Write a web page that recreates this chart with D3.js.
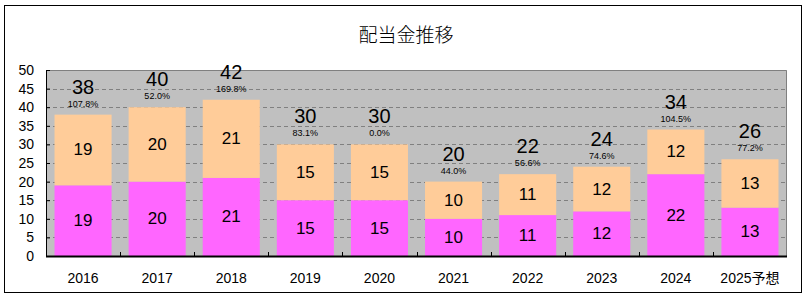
<!DOCTYPE html>
<html>
<head>
<meta charset="utf-8">
<script src="https://cdn.jsdelivr.net/npm/d3@7"></script>
<style>
  body { margin: 0; background: #fff; }
  text { font-family: "Liberation Sans", "Noto Sans CJK JP", sans-serif; }
</style>
</head>
<body>
<svg></svg>
<script>
var years = ["2016", "2017", "2018", "2019", "2020", "2021", "2022", "2023", "2024", "2025予想"];
var lower = [19, 20, 21, 15, 15, 10, 11, 12, 22, 13];
var upper = [19, 20, 21, 15, 15, 10, 11, 12, 12, 13];
var totals = [38, 40, 42, 30, 30, 20, 22, 24, 34, 26];
var rates = ["107.8%", "52.0%", "169.8%", "83.1%", "0.0%", "44.0%", "56.6%", "74.6%", "104.5%", "77.2%"];
var yTicks = [0, 5, 10, 15, 20, 25, 30, 35, 40, 45, 50];

var screen = { width: 810, height: 298 };
var margins = { top: 70, bottom: 42, left: 46, right: 23 };
var graphWidth = screen.width - margins.left - margins.right;
var graphHeight = screen.height - margins.top - margins.bottom;

var svg = d3.select("svg")
  .attr("width", screen.width)
  .attr("height", screen.height);

// outer frame
svg.append("rect")
  .attr("x", 4.5).attr("y", 5.5)
  .attr("width", 797).attr("height", 287)
  .attr("fill", "#fff")
  .attr("stroke", "#000")
  .attr("stroke-width", 1);

svg.append("text")
  .attr("x", 406).attr("y", 33)
  .attr("text-anchor", "middle")
  .attr("dominant-baseline", "central")
  .attr("font-size", 19)
  .style("font-family", "'Noto Sans CJK JP', sans-serif")
  .style("font-weight", 300)
  .text("配当金推移");

var xScale = d3.scaleBand()
  .domain(years)
  .range([0, graphWidth])
  .paddingInner(0.23)
  .paddingOuter(0.115);

var yScale = d3.scaleLinear()
  .domain([0, 50])
  .range([graphHeight, 0]);

var plot = svg.append("g")
  .attr("transform", "translate(" + margins.left + "," + margins.top + ")");

plot.append("rect")
  .attr("width", graphWidth)
  .attr("height", graphHeight)
  .attr("fill", "#c0c0c0");

// dashed grid
plot.selectAll(".grid")
  .data(yTicks.filter(function(d) { return d > 0 && d < 50; }))
  .enter()
  .append("line")
  .attr("x1", 0).attr("x2", graphWidth)
  .attr("y1", function(d) { return Math.round(yScale(d)) + 0.5; })
  .attr("y2", function(d) { return Math.round(yScale(d)) + 0.5; })
  .attr("stroke", "#808080")
  .attr("stroke-dasharray", "4,3");

// top and right border
plot.append("path")
  .attr("d", "M0.5,0.5H" + (graphWidth - 0.5) + "V" + graphHeight)
  .attr("fill", "none")
  .attr("stroke", "#808080");

var cols = plot.selectAll(".col")
  .data(years)
  .enter()
  .append("g")
  .attr("transform", function(d) { return "translate(" + xScale(d) + ",0)"; });

cols.append("rect")
  .attr("y", function(d, i) { return yScale(lower[i]); })
  .attr("width", xScale.bandwidth())
  .attr("height", function(d, i) { return graphHeight - yScale(lower[i]); })
  .attr("fill", "#ff66ff");

cols.append("rect")
  .attr("y", function(d, i) { return yScale(lower[i] + upper[i]); })
  .attr("width", xScale.bandwidth())
  .attr("height", function(d, i) { return yScale(lower[i]) - yScale(lower[i] + upper[i]); })
  .attr("fill", "#ffcc99");

var mid = xScale.bandwidth() / 2;

cols.append("text")
  .attr("x", mid)
  .attr("y", function(d, i) { return yScale(lower[i] / 2); })
  .attr("text-anchor", "middle")
  .attr("dominant-baseline", "central")
  .attr("font-size", 17)
  .text(function(d, i) { return lower[i]; });

cols.append("text")
  .attr("x", mid)
  .attr("y", function(d, i) { return yScale(lower[i] + upper[i] / 2); })
  .attr("text-anchor", "middle")
  .attr("dominant-baseline", "central")
  .attr("font-size", 17)
  .text(function(d, i) { return upper[i]; });

cols.append("text")
  .attr("x", mid)
  .attr("y", function(d, i) { return yScale(totals[i]) - 28; })
  .attr("text-anchor", "middle")
  .attr("dominant-baseline", "central")
  .attr("font-size", 20)
  .text(function(d, i) { return totals[i]; });

cols.append("text")
  .attr("x", mid)
  .attr("y", function(d, i) { return yScale(totals[i]) - 11; })
  .attr("text-anchor", "middle")
  .attr("dominant-baseline", "central")
  .attr("font-size", 9)
  .text(function(d, i) { return rates[i]; });

// axes
var yAxis = d3.axisLeft(yScale)
  .tickValues(yTicks)
  .tickSize(-4)
  .tickPadding(12);

var yg = plot.append("g").call(yAxis);
yg.select(".domain").attr("stroke", "#000");
yg.selectAll("text").attr("font-size", 14).attr("fill", "#000")
  .style("font-family", "'Liberation Sans', sans-serif");

var boundaries = d3.range(1, years.length).map(function(i) { return i * xScale.step(); });
plot.selectAll(".xtick")
  .data(boundaries)
  .enter()
  .append("line")
  .attr("x1", function(d) { return Math.round(d) + 0.5; })
  .attr("x2", function(d) { return Math.round(d) + 0.5; })
  .attr("y1", graphHeight - 4)
  .attr("y2", graphHeight)
  .attr("stroke", "#000");

plot.append("line")
  .attr("x1", 0).attr("x2", graphWidth)
  .attr("y1", graphHeight + 0.5).attr("y2", graphHeight + 0.5)
  .attr("stroke", "#000").attr("stroke-width", 2);

plot.append("line")
  .attr("x1", 0.5).attr("x2", 0.5)
  .attr("y1", 0).attr("y2", graphHeight)
  .attr("stroke", "#000");

plot.selectAll(".xlabel")
  .data(years)
  .enter()
  .append("text")
  .attr("x", function(d) { return xScale(d) + mid; })
  .attr("y", graphHeight + 22)
  .attr("text-anchor", "middle")
  .attr("dominant-baseline", "central")
  .attr("font-size", 14)
  .text(function(d) { return d; });
</script>
</body>
</html>
